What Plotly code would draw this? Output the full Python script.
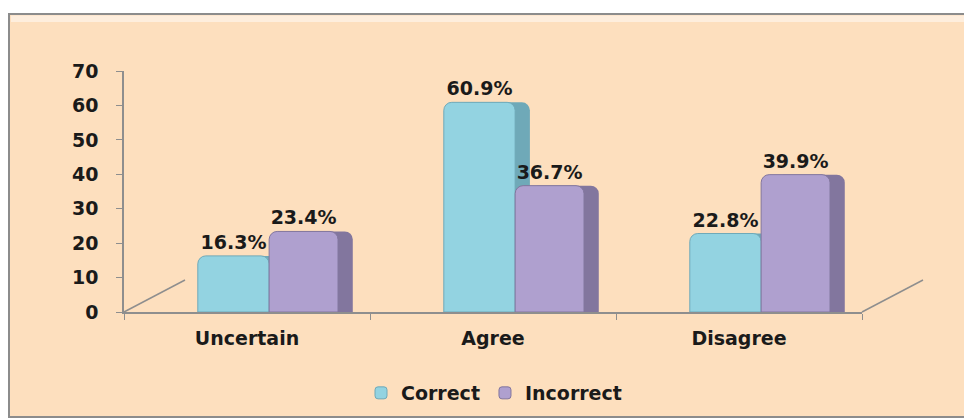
import plotly.graph_objects as go

categories = ["Uncertain", "Agree", "Disagree"]
correct = [16.3, 60.9, 22.8]
incorrect = [23.4, 36.7, 39.9]
y_ticks = [0, 10, 20, 30, 40, 50, 60, 70]

FONT = "DejaVu Sans"
OFF = 8  # default page body margin
W, H = 972 - OFF, 419 - OFF
L, T = 124 - OFF, 71 - OFF
R, B = W - (862 - OFF), H - (312 - OFF)
pw, ph = W - L - R, H - T - B

def px(x):
    return (x - OFF - L) / pw

def py(y):
    return (H - B - (y - OFF)) / ph

DEPTH = 0.06
BW_C, OF_C = 0.29, -0.20
BW_I, OF_I = 0.28, 0.09

def bars(name, vals, front, side, edge, width, offset, show_text):
    out = [go.Bar(
        name=name, x=categories, y=vals, width=width, offset=offset + DEPTH,
        marker=dict(color=side, line=dict(color=side, width=0), cornerradius=8),
        showlegend=False, hoverinfo="skip",
    ), go.Bar(
        name=name, x=categories, y=vals, width=width, offset=offset,
        marker=dict(color=front, line=dict(color=edge, width=1), cornerradius=8),
        text=[f"{v}%" for v in vals], textposition="outside",
        textfont=dict(family=FONT, size=19, color="#1a1a1a", weight="bold"),
        cliponaxis=False,
    )]
    return out

fig = go.Figure()
for tr in bars("Correct", correct, "#93D3E1", "#6FA9B8", "#6FA9B8", BW_C, OF_C, True):
    fig.add_trace(tr)
for tr in bars("Incorrect", incorrect, "#AFA0CF", "#82769E", "#82769E", BW_I, OF_I, True):
    fig.add_trace(tr)

shapes = [
    dict(type="rect", xref="paper", yref="paper",
         x0=px(9), x1=px(990), y0=py(14), y1=py(417),
         fillcolor="#FDDFBE", line=dict(color="#8C8C8C", width=2), layer="below"),
    dict(type="rect", xref="paper", yref="paper",
         x0=px(11), x1=px(990), y0=py(15.5), y1=py(22),
         fillcolor="#FEEEDD", line=dict(width=0), layer="below"),
    dict(type="line", xref="paper", yref="paper",
         x0=px(124), y0=py(312), x1=px(185), y1=py(280),
         line=dict(color="#8E8E8E", width=1.5), layer="below"),
    dict(type="line", xref="paper", yref="paper",
         x0=px(862), y0=py(312), x1=px(923), y1=py(280),
         line=dict(color="#8E8E8E", width=1.5), layer="below"),
]

fig.update_layout(
    width=W, height=H,
    margin=dict(l=L, r=R, t=T, b=B, autoexpand=False),
    paper_bgcolor="white", plot_bgcolor="rgba(0,0,0,0)",
    barmode="overlay",
    font=dict(family=FONT, size=19, color="#1a1a1a"),
    shapes=shapes,
    showlegend=True,
    legend=dict(orientation="h", x=(494 - OFF) / W, xanchor="center", xref="container",
                y=(H - (393 - OFF)) / H, yanchor="middle", yref="container",
                font=dict(family=FONT, size=19, color="#1a1a1a", weight="bold"),
                bgcolor="rgba(0,0,0,0)", itemwidth=30),
    xaxis=dict(showline=True, linecolor="#8E8E8E", linewidth=1.5, automargin=False,
               ticks="outside", tickson="boundaries", ticklen=6, tickcolor="#8E8E8E",
               tickfont=dict(family=FONT, size=19, color="#1a1a1a", weight="bold"),
               ticklabelstandoff=8, showgrid=False),
    yaxis=dict(range=[0, 70], tickvals=y_ticks, showline=True, linecolor="#8E8E8E",
               linewidth=1.5, ticks="outside", ticklen=6, tickcolor="#8E8E8E", automargin=False,
               tickfont=dict(family=FONT, size=19, color="#1a1a1a", weight="bold"),
               ticklabelstandoff=14, showgrid=False, zeroline=False),
)

fig.write_html("out.html")
